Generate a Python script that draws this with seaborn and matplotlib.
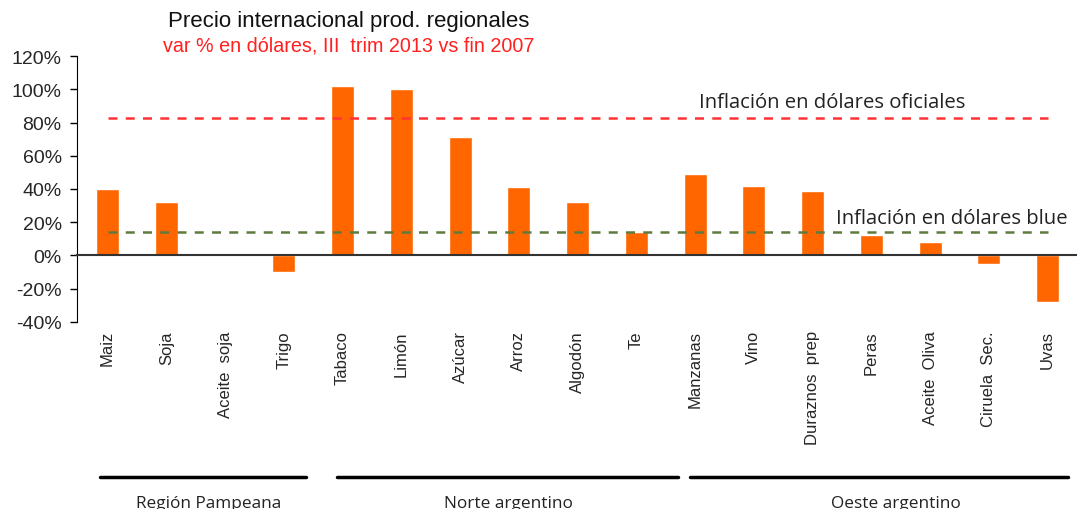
import numpy as np
import pandas as pd
import matplotlib
matplotlib.use("Agg")
import matplotlib.pyplot as plt
import seaborn as sns

# ================== DATA ==================
productos = ["Maiz", "Soja", "Aceite  soja", "Trigo", "Tabaco", "Limón", "Azúcar",
             "Arroz", "Algodón", "Te", "Manzanas", "Vino", "Duraznos  prep",
             "Peras", "Aceite  Oliva", "Ciruela  Sec.", "Uvas"]
variacion = [40, 32, 0, -10, 102, 100, 71, 41, 32, 14, 49, 42, 39, 12, 8, -5, -28]
regiones = ["Región Pampeana", "Norte argentino", "Oeste argentino"]
inflacion_oficial = 83
inflacion_blue = 14

df = pd.DataFrame({"producto": productos, "var": variacion})

# ================== STYLE ==================
sns.set_style("white")
plt.rcParams["font.family"] = ["Liberation Sans", "DejaVu Sans"]

fig = plt.figure(figsize=(10.77, 5.10), dpi=100)
ax = fig.add_axes([0.0715, 0.367, 0.9285, 0.521])

sns.barplot(data=df, x="producto", y="var", color="#FF6600", saturation=1,
            width=0.39, ax=ax)

ax.set_xlim(-0.52, 16.34)
ax.set_ylim(-40, 120)
ax.set_yticks(np.arange(-40, 121, 20))
ax.set_yticklabels([f"{v}%" for v in range(-40, 121, 20)], fontsize=14)
ax.set_xlabel("")
ax.set_ylabel("")

for s in ["top", "right"]:
    ax.spines[s].set_visible(False)
ax.spines["left"].set_color("black")
ax.spines["bottom"].set_color("#333333")
ax.spines["bottom"].set_linewidth(1.5)
ax.spines["bottom"].set_position(("data", 0))

# ticks between categories on the zero line
ax.set_xticks(np.arange(len(productos)) + 0.5)
ax.set_xticklabels([])
ax.tick_params(axis="x", direction="out", length=5, width=1.2, color="#222222")
ax.tick_params(axis="y", direction="out", length=5, width=1, color="black", left=True,
               pad=6)

# category labels under the plot area
for i, name in enumerate(productos):
    ax.text(i, -45, name, rotation=90, ha="center", va="top", fontsize=12)

# inflation reference lines (from first to last category)
n = len(productos) - 1
ax.hlines(inflacion_oficial, 0, n, colors="#FF3333", linestyles=(0, (3.6, 3.3)), lw=1.8)
ax.hlines(inflacion_blue, 0, n, colors="#5E7A3E", linestyles=(0, (3.6, 3.3)), lw=1.8)
ax.text(10.06, 92.5, "Inflación en dólares oficiales", fontsize=14.6,
        family=["Open Sans", "DejaVu Sans"], color="#222222", va="center")
ax.text(12.4, 22.5, "Inflación en dólares blue", fontsize=14.6,
        family=["Open Sans", "DejaVu Sans"], color="#222222", va="center")

# titles
fig.text(0.324, 0.957, "Precio internacional prod. regionales", fontsize=16,
         ha="center", va="center", color="#111111")
fig.text(0.324, 0.91, "var % en dólares, III  trim 2013 vs fin 2007", fontsize=14.2,
         ha="center", va="center", color="#FF2020")

# region brackets
spans = [(-0.13, 3.37), (3.91, 9.71), (9.92, 16.34)]
label_x = [1.72, 6.82, 13.42]
trans = ax.get_xaxis_transform()
for reg, (x0, x1), lx in zip(regiones, spans, label_x):
    ax.plot([x0, x1], [-0.583, -0.583], color="black", lw=2.5, transform=trans,
            clip_on=False)
    ax.text(lx, -0.68, reg, transform=trans, ha="center", va="center", fontsize=12.4,
            family=["Open Sans", "DejaVu Sans"], color="#222222")

fig.savefig("out.png", dpi=100)
